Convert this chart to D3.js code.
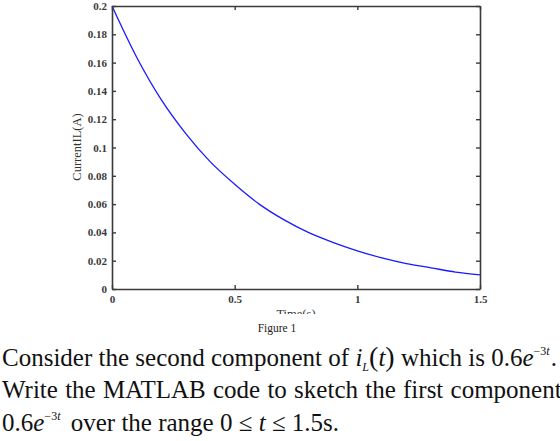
<!DOCTYPE html>
<html>
<head>
<meta charset="utf-8">
<script src="https://cdn.jsdelivr.net/npm/d3@7"></script>
<style>
  html, body { margin: 0; padding: 0; background: #fff; }
  svg { display: block; }
</style>
</head>
<body>
<svg id="chart" width="560" height="441"></svg>
<script>
// values: current iL(t) in A against time in s
const timeValues = [0, 0.1, 0.2, 0.3, 0.4, 0.5, 0.6, 0.7, 0.8, 0.9, 1.0, 1.1, 1.2, 1.3, 1.4, 1.5];
const currentValues = [0.200, 0.164, 0.134, 0.110, 0.090, 0.074, 0.060, 0.049, 0.040, 0.033, 0.027, 0.022, 0.018, 0.015, 0.012, 0.010];
const xTicks = [0, 0.5, 1, 1.5];
const yTicks = [0, 0.02, 0.04, 0.06, 0.08, 0.1, 0.12, 0.14, 0.16, 0.18, 0.2];

const svg = d3.select("#chart");
svg.append("rect").attr("width", 560).attr("height", 441).attr("fill", "#fff");

const area = { left: 112, right: 480, top: 6, bottom: 289 };

const scaleX = d3.scaleLinear().domain([0, 1.5]).range([area.left, area.right]);
const scaleY = d3.scaleLinear().domain([0, 0.2]).range([area.bottom, area.top]);

const axisColor = "#3a3a3a";
const serif = "'Liberation Serif', 'Times New Roman', serif";

// curve
const data = timeValues.map((t, i) => ({ t: t, v: currentValues[i] }));
const line = d3.line()
    .x(d => scaleX(d.t))
    .y(d => scaleY(d.v))
    .curve(d3.curveMonotoneX);

svg.append("path")
    .datum(data)
    .attr("fill", "none")
    .attr("stroke", "#1a1aff")
    .attr("stroke-width", 1.3)
    .attr("d", line);

// axes (MATLAB box, ticks inward)
function styleAxis(g) {
    g.select(".domain").attr("stroke", axisColor).attr("stroke-width", 1.6);
    g.selectAll(".tick line").attr("stroke", axisColor).attr("stroke-width", 1.4);
    g.selectAll(".tick text")
        .attr("fill", "#3a3a3a")
        .style("font-family", serif)
        .style("font-size", "11px")
        .style("font-weight", "bold");
}

const fmt = d3.format("~g");

svg.append("g")
    .attr("transform", `translate(0, ${area.bottom})`)
    .call(d3.axisBottom(scaleX).tickValues(xTicks).tickFormat(fmt).tickSizeInner(-4).tickSizeOuter(0).tickPadding(6))
    .call(styleAxis);

svg.append("g")
    .attr("transform", `translate(0, ${area.top})`)
    .call(d3.axisTop(scaleX).tickValues(xTicks).tickFormat("").tickSizeInner(-4).tickSizeOuter(0))
    .call(styleAxis);

svg.append("g")
    .attr("transform", `translate(${area.left}, 0)`)
    .call(d3.axisLeft(scaleY).tickValues(yTicks).tickFormat(fmt).tickSizeInner(-4).tickSizeOuter(0).tickPadding(5))
    .call(styleAxis);

svg.append("g")
    .attr("transform", `translate(${area.right}, 0)`)
    .call(d3.axisRight(scaleY).tickValues(yTicks).tickFormat("").tickSizeInner(-4).tickSizeOuter(0))
    .call(styleAxis);

// axis labels
svg.append("text")
    .attr("transform", "translate(81, 147) rotate(-90)")
    .attr("text-anchor", "middle")
    .attr("fill", "#333")
    .style("font-family", serif)
    .style("font-size", "12.5px")
    .text("CurrentIL(A)");

svg.append("clipPath").attr("id", "xlabClip")
    .append("rect").attr("x", 200).attr("y", 300).attr("width", 200).attr("height", 14);

svg.append("text")
    .attr("x", 296)
    .attr("y", 318)
    .attr("text-anchor", "middle")
    .attr("clip-path", "url(#xlabClip)")
    .attr("fill", "#333")
    .style("font-family", serif)
    .style("font-size", "12.5px")
    .text("Time(s)");

svg.append("text")
    .attr("x", 277)
    .attr("y", 332)
    .attr("text-anchor", "middle")
    .attr("fill", "#222")
    .style("font-family", serif)
    .style("font-size", "11.5px")
    .text("Figure 1");

// body text
const body = svg.append("g")
    .attr("fill", "#111")
    .style("font-family", serif)
    .style("font-size", "25px");

const l1 = body.append("text").attr("x", 2).attr("y", 366);
l1.append("tspan").text("Consider the second component of ");
l1.append("tspan").style("font-style", "italic").text("i");
l1.append("tspan").style("font-style", "italic").style("font-size", "12px").attr("dy", 5).text("L");
l1.append("tspan").attr("dy", -5).style("font-size", "28px").text("(");
l1.append("tspan").style("font-style", "italic").text("t");
l1.append("tspan").style("font-size", "28px").text(")");
l1.append("tspan").text(" which is 0.6");
l1.append("tspan").style("font-style", "italic").text("e");
l1.append("tspan").style("font-size", "12px").attr("dy", -11).text("\u22123");
l1.append("tspan").style("font-size", "12px").style("font-style", "italic").text("t");
l1.append("tspan").attr("dy", 11).attr("dx", 1).text(".");

const l2 = body.append("text").attr("x", 2).attr("y", 398).attr("word-spacing", 1);
l2.text("Write the MATLAB code to sketch the first component");

const l3 = body.append("text").attr("x", 2).attr("y", 431);
l3.append("tspan").text("0.6");
l3.append("tspan").style("font-style", "italic").text("e");
l3.append("tspan").style("font-size", "12px").attr("dy", -11).text("\u22123");
l3.append("tspan").style("font-size", "12px").style("font-style", "italic").text("t");
l3.append("tspan").attr("dy", 11).attr("dx", 4).text("  over the range 0 \u2264 ");
l3.append("tspan").style("font-style", "italic").text("t");
l3.append("tspan").text(" \u2264 1.5s.");
</script>
</body>
</html>
